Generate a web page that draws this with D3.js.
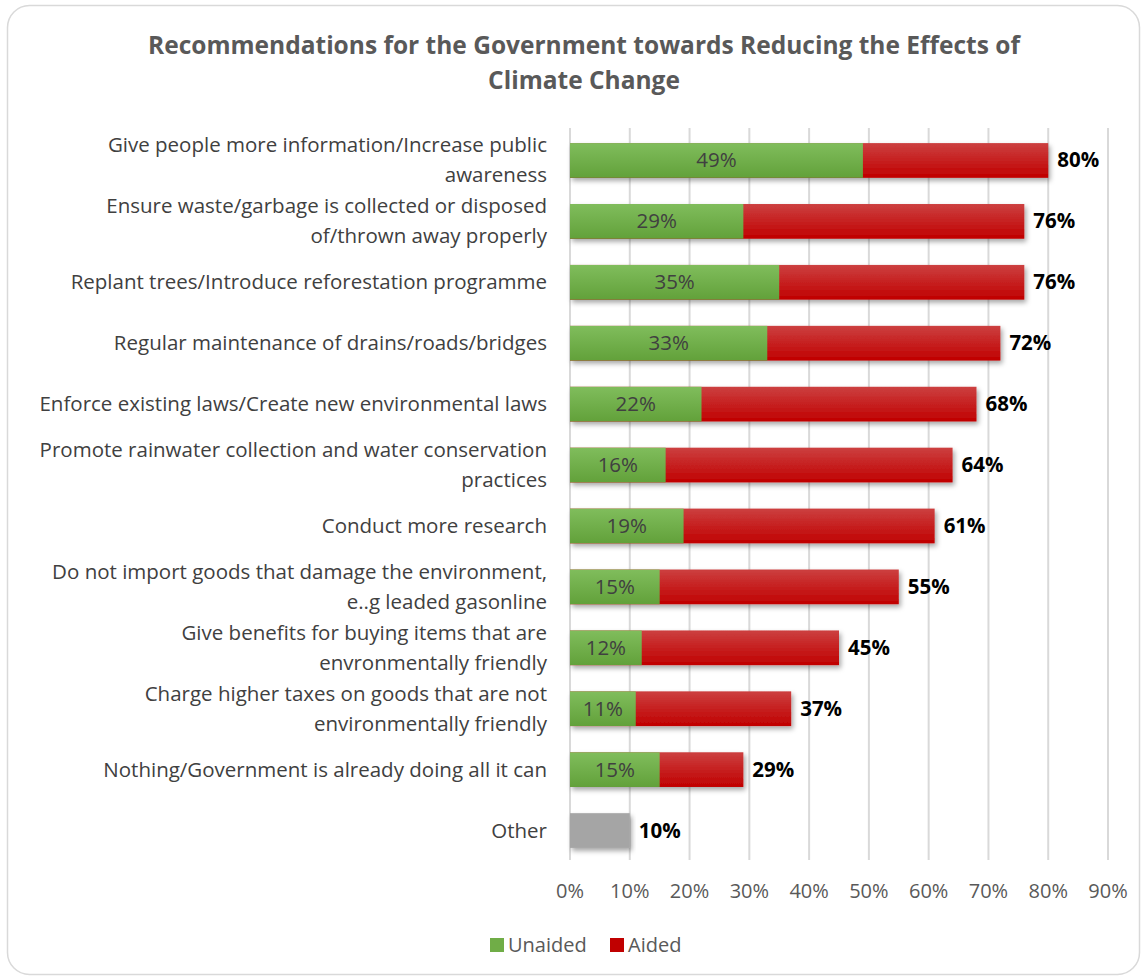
<!DOCTYPE html>
<html>
<head>
<meta charset="utf-8">
<script src="https://cdn.jsdelivr.net/npm/d3@7/dist/d3.min.js"></script>
<style>
  body { margin: 0; background: #fff; }
  svg { display: block; font-family: "Open Sans", "Noto Sans", sans-serif; }
</style>
</head>
<body>
<div id="chart"></div>
<script>
// categories, line breaks as in the original
const categories = [
  "Give people more information/Increase public\nawareness",
  "Ensure waste/garbage is collected or disposed\nof/thrown away properly",
  "Replant trees/Introduce reforestation programme",
  "Regular maintenance of drains/roads/bridges",
  "Enforce existing laws/Create new environmental laws",
  "Promote rainwater collection and water conservation\npractices",
  "Conduct more research",
  "Do not import goods that damage the environment,\ne..g leaded gasonline",
  "Give benefits for buying items that are\nenvronmentally friendly",
  "Charge higher taxes on goods that are not\nenvironmentally friendly",
  "Nothing/Government is already doing all it can",
  "Other"
];
// unaided share (null = not split)
const unaided = [49, 29, 35, 33, 22, 16, 19, 15, 12, 11, 15, null];
// total (unaided + aided)
const total = [80, 76, 76, 72, 68, 64, 61, 55, 45, 37, 29, 10];
const xTicks = [0, 10, 20, 30, 40, 50, 60, 70, 80, 90];

const W = 1145, H = 980;
const FS = 20.5;
const svg = d3.select("#chart").append("svg").attr("width", W).attr("height", H);
const defs = svg.append("defs");

// bar gradients (slight top highlight)
function grad(id, top, bottom) {
  const g = defs.append("linearGradient").attr("id", id)
    .attr("x1", 0).attr("y1", 0).attr("x2", 0).attr("y2", 1);
  g.append("stop").attr("offset", "0%").attr("stop-color", top);
  g.append("stop").attr("offset", "100%").attr("stop-color", bottom);
}
grad("gGreen", "#80bd5c", "#62a13a");
grad("gRed", "#cc4040", "#c00000");
const f = defs.append("filter").attr("id", "shadow")
  .attr("x", "-5%").attr("y", "-20%").attr("width", "115%").attr("height", "160%");
f.append("feDropShadow").attr("dx", 2).attr("dy", 3).attr("stdDeviation", 2.5)
  .attr("flood-color", "#000").attr("flood-opacity", 0.35);

// outer frame
svg.append("rect").attr("x", 7.5).attr("y", 5.5).attr("width", 1132).attr("height", 969)
  .attr("rx", 22).attr("fill", "#fff").attr("stroke", "#d9d9d9").attr("stroke-width", 1.5);

// title
svg.append("text").attr("x", 584).attr("y", 54).attr("text-anchor", "middle")
  .attr("font-size", 24.5).attr("font-weight", "bold").attr("fill", "#595959")
  .selectAll("tspan").data(["Recommendations for the Government towards Reducing the Effects of", "Climate Change"])
  .join("tspan").attr("x", 584).attr("dy", (d, i) => i ? 35 : 0).text(d => d);

const x = d3.scaleLinear().domain([0, 90]).range([570, 1108]);
const y = d3.scaleBand().domain(d3.range(categories.length)).range([130, 861]).paddingInner(0.43).paddingOuter(0.215);

// gridlines
svg.append("g").selectAll("line").data(xTicks).join("line")
  .attr("x1", d => x(d)).attr("x2", d => x(d))
  .attr("y1", 128).attr("y2", 860)
  .attr("stroke", "#d9d9d9").attr("stroke-width", 2);

// x axis labels
svg.append("g").selectAll("text").data(xTicks).join("text")
  .attr("x", d => x(d)).attr("y", 898).attr("text-anchor", "middle")
  .attr("font-size", FS - 0.5).attr("fill", "#595959").text(d => d + "%");

const rows = categories.map((c, i) => ({ i, c, u: unaided[i], t: total[i] }));
const bh = y.bandwidth();

const bars = svg.append("g").selectAll("g").data(rows).join("g");
// full bar: aided (red) or other (grey), drawn first with shadow
bars.append("rect")
  .attr("x", x(0)).attr("y", d => y(d.i)).attr("height", bh)
  .attr("width", d => x(d.t) - x(0))
  .attr("fill", d => d.u == null ? "#a5a5a5" : "url(#gRed)")
  .attr("filter", "url(#shadow)");
// unaided (green)
bars.filter(d => d.u != null).append("rect")
  .attr("x", x(0)).attr("y", d => y(d.i)).attr("height", bh)
  .attr("width", d => x(d.u) - x(0))
  .attr("fill", "url(#gGreen)");

// inner labels
bars.filter(d => d.u != null).append("text")
  .attr("x", d => (x(0) + x(d.u)) / 2).attr("y", d => y(d.i) + bh / 2 + 7)
  .attr("text-anchor", "middle").attr("font-size", FS).attr("fill", "#404040")
  .text(d => d.u + "%");
// total labels
bars.append("text")
  .attr("x", d => x(d.t) + 9).attr("y", d => y(d.i) + bh / 2 + 7)
  .attr("font-size", FS).attr("font-weight", "bold").attr("fill", "#000")
  .text(d => d.t + "%");

// category labels
svg.append("g").selectAll("text").data(rows).join("text")
  .attr("text-anchor", "end").attr("font-size", FS).attr("fill", "#404040")
  .attr("y", d => {
    const n = d.c.split("\n").length;
    return y(d.i) + bh / 2 + 7 - (n - 1) * 15;
  })
  .each(function (d) {
    d3.select(this).selectAll("tspan").data(d.c.split("\n")).join("tspan")
      .attr("x", 547).attr("dy", (t, k) => k ? 30 : 0).text(t => t);
  });

// legend
const legend = [["Unaided", "#70ad47"], ["Aided", "#c00000"]];
const lg = svg.append("g").selectAll("g").data(legend).join("g")
  .attr("transform", (d, i) => `translate(${i ? 610 : 490},938)`);
lg.append("rect").attr("width", 14).attr("height", 14).attr("fill", d => d[1]);
lg.append("text").attr("x", 18).attr("y", 14).attr("font-size", FS - 0.5).attr("fill", "#595959").text(d => d[0]);
</script>
</body>
</html>
